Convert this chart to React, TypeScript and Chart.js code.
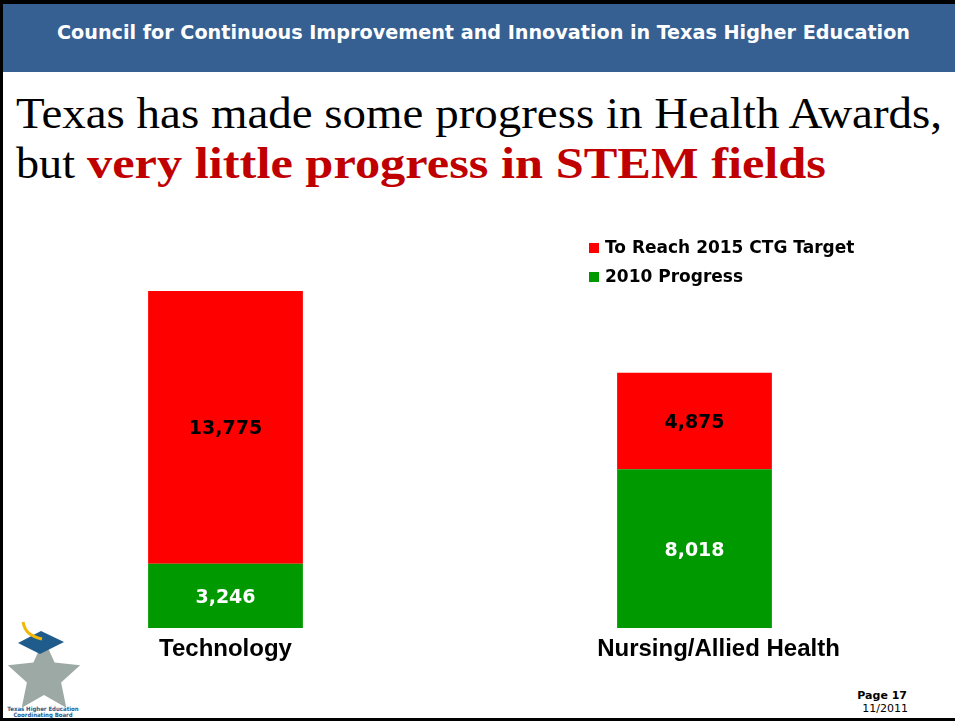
import React, { useEffect, useRef } from "react";
import { Chart, registerables } from "chart.js";

Chart.register(...registerables);

// ---- data ----
const categories = ["Technology", "Nursing/Allied Health"];
const progress2010 = [3246, 8018];
const toReachTarget = [13775, 4875];
const seriesLabels = ["2010 Progress", "To Reach 2015 CTG Target"];
const seriesColors = ["#009900", "#FF0000"];
const valueLabelColors = ["#FFFFFF", "#000000"];
const yMax = 20000;
// the second category label sits slightly right of its bar in the original
const tickLeadSpaces = [0, 4];

const fmt = (v: number) => v.toLocaleString("en-US");

const valueLabelPlugin = {
  id: "valueLabels",
  afterDatasetsDraw(chart: any) {
    const ctx = chart.ctx;
    ctx.save();
    ctx.font = "bold 19px 'DejaVu Sans', Verdana, sans-serif";
    ctx.textAlign = "center";
    ctx.textBaseline = "middle";
    chart.data.datasets.forEach((ds: any, di: number) => {
      const meta = chart.getDatasetMeta(di);
      meta.data.forEach((el: any, i: number) => {
        const { x, y, base } = el.getProps(["x", "y", "base"], true);
        ctx.fillStyle = valueLabelColors[di];
        ctx.fillText(fmt(ds.data[i]), x, (y + base) / 2 + 2);
      });
    });
    ctx.restore();
  },
};

const customLegendPlugin = {
  id: "customLegend",
  afterDraw(chart: any, _args: any, opts: any) {
    const ctx = chart.ctx;
    ctx.save();
    ctx.font = "bold 17px 'DejaVu Sans', Verdana, sans-serif";
    ctx.textBaseline = "middle";
    ctx.textAlign = "left";
    const items = chart.data.datasets.map((d: any) => d).reverse();
    items.forEach((ds: any, k: number) => {
      const cy = opts.y + k * opts.rowGap;
      ctx.fillStyle = ds.backgroundColor;
      ctx.fillRect(opts.x, cy - 5, 10, 10);
      ctx.fillStyle = "#000000";
      ctx.fillText(ds.label, opts.x + 16, cy + 1);
    });
    ctx.restore();
  },
};

function ChartCanvas() {
  const ref = useRef<HTMLCanvasElement | null>(null);
  useEffect(() => {
    if (!ref.current) return;
    const chart = new Chart(ref.current, {
      type: "bar",
      data: {
        labels: categories,
        datasets: [
          { label: seriesLabels[0], data: progress2010, backgroundColor: seriesColors[0], borderWidth: 0 },
          { label: seriesLabels[1], data: toReachTarget, backgroundColor: seriesColors[1], borderWidth: 0 },
        ],
      },
      options: {
        animation: false,
        responsive: false,
        maintainAspectRatio: false,
        datasets: { bar: { categoryPercentage: 1, barPercentage: 0.33 } },
        layout: { padding: { left: 0, right: 17, top: 32, bottom: 0 } },
        plugins: {
          legend: { display: false },
          tooltip: { enabled: false },
          customLegend: { x: 598, y: 48, rowGap: 29 },
        } as any,
        scales: {
          x: {
            stacked: true,
            grid: { display: false, drawTicks: false },
            border: { display: false },
            ticks: {
              color: "#000000",
              padding: 7,
              font: { family: "'Liberation Sans', Arial, sans-serif", size: 24, weight: "bold" },
              callback: (_v: any, i: number) => "\u2002".repeat(tickLeadSpaces[i] || 0) + categories[i],
            },
            afterFit: (s: any) => {
              s.height = 72;
            },
          },
          y: { stacked: true, display: false, min: 0, max: yMax },
        },
      } as any,
      plugins: [valueLabelPlugin, customLegendPlugin],
    });
    return () => chart.destroy();
  }, []);
  return (
    <canvas
      ref={ref}
      width={955}
      height={500}
      style={{ position: "absolute", left: -9, top: 200, width: 955, height: 500 }}
    />
  );
}

function starPoints(cx: number, cy: number, R: number, r: number) {
  const pts: string[] = [];
  for (let i = 0; i < 10; i++) {
    const rad = i % 2 === 0 ? R : r;
    const a = (Math.PI / 5) * i - Math.PI / 2;
    pts.push(`${(cx + rad * Math.cos(a)).toFixed(1)},${(cy + rad * Math.sin(a)).toFixed(1)}`);
  }
  return pts.join(" ");
}

export default function App() {
  return (
    <div
      style={{
        position: "fixed",
        left: 0,
        top: 0,
        width: 955,
        height: 721,
        background: "#FFFFFF",
        overflow: "hidden",
      }}
    >
      <svg width={955} height={721} style={{ position: "absolute", left: 0, top: 0 }}>
        <rect x={0} y={0} width={955} height={72} fill="#376092" />
        <rect x={0} y={0} width={955} height={4} fill="#000000" />
        <rect x={0} y={0} width={3} height={721} fill="#000000" />
        <rect x={0} y={718} width={955} height={3} fill="#000000" />
        <text
          x={57}
          y={39}
          textLength={853}
          lengthAdjust="spacingAndGlyphs"
          fill="#FFFFFF"
          style={{ font: "bold 19px 'DejaVu Sans Condensed', 'DejaVu Sans', Verdana, sans-serif" }}
        >
          Council for Continuous Improvement and Innovation in Texas Higher Education
        </text>
        <text
          x={16}
          y={128}
          textLength={926}
          lengthAdjust="spacingAndGlyphs"
          fill="#000000"
          style={{ font: "45px 'Liberation Serif', 'Times New Roman', serif" }}
        >
          Texas has made some progress in Health Awards,
        </text>
        <text
          x={16}
          y={178}
          textLength={59}
          lengthAdjust="spacingAndGlyphs"
          fill="#000000"
          style={{ font: "45px 'Liberation Serif', 'Times New Roman', serif" }}
        >
          but
        </text>
        <text
          x={87}
          y={178}
          textLength={739}
          lengthAdjust="spacingAndGlyphs"
          fill="#C00000"
          style={{ font: "bold 45px 'Liberation Serif', 'Times New Roman', serif" }}
        >
          very little progress in STEM fields
        </text>
        {/* logo */}
        <polygon points={starPoints(44, 677, 38, 18)} fill="#9DA9A4" />
        <polygon points="18,643 41,631 64,642 40,654" fill="#1F5C8C" />
        <path d="M23,622 C25,632 30,636 42,639" stroke="#F2B705" strokeWidth={3} fill="none" />
        <text x={43} y={711} textAnchor="middle" fill="#1F5C8C" style={{ font: "bold 6px 'DejaVu Sans Condensed', 'DejaVu Sans', sans-serif" }}>
          Texas Higher Education
        </text>
        <text x={43} y={717} textAnchor="middle" fill="#1F5C8C" style={{ font: "bold 6px 'DejaVu Sans Condensed', 'DejaVu Sans', sans-serif" }}>
          Coordinating Board
        </text>
        {/* footer */}
        <text x={907} y={699} textAnchor="end" fill="#000000" style={{ font: "bold 11px 'DejaVu Sans', Verdana, sans-serif" }}>
          Page 17
        </text>
        <text x={908} y={712} textAnchor="end" fill="#000000" style={{ font: "11px 'DejaVu Sans', Verdana, sans-serif" }}>
          11/2011
        </text>
      </svg>
      <ChartCanvas />
    </div>
  );
}
